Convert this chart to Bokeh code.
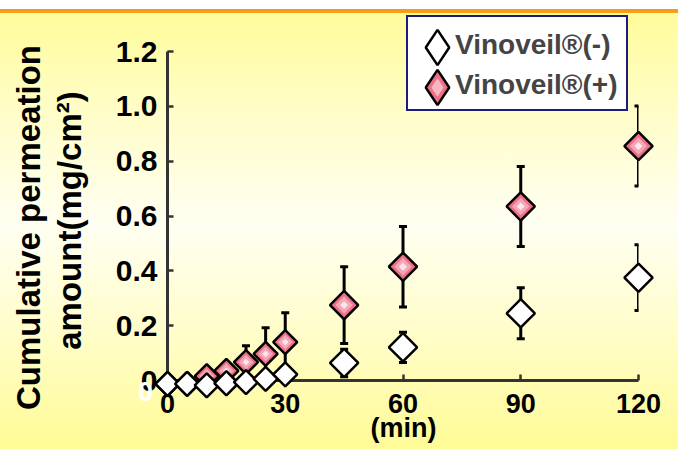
import math
from bokeh.plotting import figure
from bokeh.models import (Range1d, FixedTicker, Legend, LegendItem,
                          InlineStyleSheet, ColumnDataSource, PrintfTickFormatter)
from bokeh.core.properties import value
from bokeh.embed import file_html
from bokeh.resources import INLINE

# ---- data ----
times = [0, 5, 10, 15, 20, 25, 30, 45, 60, 90, 120]
minus_mean = [-0.012, -0.012, -0.018, -0.010, -0.006, 0.006, 0.022, 0.064, 0.121, 0.245, 0.375]
minus_sd = [0.0, 0.0, 0.0, 0.0, 0.0, 0.0, 0.0, 0.050, 0.055, 0.093, 0.120]
plus_mean = [-0.012, -0.012, 0.016, 0.035, 0.067, 0.097, 0.140, 0.275, 0.415, 0.635, 0.855]
plus_sd = [0.0, 0.0, 0.020, 0.030, 0.060, 0.095, 0.107, 0.140, 0.147, 0.146, 0.146]
series_names = ["Vinoveil®(-)", "Vinoveil®(+)"]
x_ticks = [0, 30, 60, 90, 120]
y_ticks = [0, 0.2, 0.4, 0.6, 0.8, 1.0, 1.2]
x_label = "(min)"
y_label_lines = ["Cumulative permeation", "amount(mg/cm²)"]

FONT = "Liberation Sans"

# ---- layout geometry (pixels) ----
W, H = 678, 449
F_LEFT, F_RIGHT, F_TOP, F_BOTTOM = 167, 638, 13, 380
X_MAX, Y_AXIS_MAX = 120, 1.2
PX_PER_Y = 329 / Y_AXIS_MAX          # 0 -> 1.2 spans 329 px
Y_END = (F_BOTTOM - F_TOP) / PX_PER_Y
PX_PER_X = (F_RIGHT - F_LEFT) / X_MAX

def at(px, py):
    """pixel position -> data position (for titles placed outside the frame)"""
    return (px - F_LEFT) / PX_PER_X, (F_BOTTOM - py) / PX_PER_Y

p = figure(frame_width=F_RIGHT - F_LEFT, frame_height=F_BOTTOM - F_TOP,
           output_backend="svg", toolbar_location=None,
           x_range=Range1d(0, X_MAX), y_range=Range1d(0, Y_END),
           min_border_left=F_LEFT, min_border_right=W - F_RIGHT,
           min_border_top=F_TOP, min_border_bottom=H - F_BOTTOM)
p.border_fill_alpha = 0
p.background_fill_alpha = 0
p.outline_line_color = None
p.grid.visible = False
p.stylesheets = [InlineStyleSheet(css=""":host { background: linear-gradient(to bottom,
  #ffffff 0px, #ffffff 9.5px, #f39a1a 9.5px, #f7a21c 13px, #fffc9c 13px,
  #fffdc8 25%, #fffff2 50%, #fffdc8 75%, #fffb96 100%); }""")]

for ax in (p.xaxis[0], p.yaxis[0]):
    ax.axis_line_color = "#333333"
    ax.axis_line_width = 3
    ax.major_tick_in = 6
    ax.major_tick_out = 0
    ax.major_tick_line_color = "#333333"
    ax.major_tick_line_width = 2.5
    ax.minor_tick_line_color = None
    ax.major_label_text_font = FONT
    ax.major_label_text_font_style = "bold"
    ax.major_label_text_color = "black"

p.yaxis.bounds = (0, Y_AXIS_MAX)
p.xaxis.ticker = FixedTicker(ticks=x_ticks)
p.yaxis.ticker = FixedTicker(ticks=y_ticks)
p.yaxis.formatter = PrintfTickFormatter(format="%.1f")
p.yaxis.major_label_overrides = {0: "0"}
p.xaxis.major_label_text_font_size = "27px"
p.yaxis.major_label_text_font_size = "30px"
p.xaxis.major_label_standoff = 13
p.yaxis.major_label_standoff = 10

# axis titles (drawn as text outside the frame)
lx1, ly1 = at(27.5, 227)
lx2, ly2 = at(69, 220)
p.text(x=[lx1, lx2], y=[ly1, ly2], text=y_label_lines, angle=math.pi / 2,
       text_font=value(FONT), text_font_style="bold", text_font_size="33px",
       text_color="black", text_align="center", text_baseline="middle", level="annotation")
mx, my = at(403, 427)
p.text(x=[mx], y=[my], text=[x_label], text_font=value(FONT), text_font_style="bold",
       text_font_size="27px", text_color="black", text_align="center",
       text_baseline="middle", level="annotation")
zx, zy = at(145, 391)
p.text(x=[zx], y=[zy], text=["0"], text_font=value(FONT), text_font_style="bold",
       text_font_size="27px", text_color="white", text_align="center",
       text_baseline="middle", level="annotation")

def sizes(ts):
    return [17 if t <= 30 else 20 for t in ts]

src_m = ColumnDataSource(dict(x=times, y=minus_mean,
                              lo=[m - s for m, s in zip(minus_mean, minus_sd)],
                              hi=[m + s for m, s in zip(minus_mean, minus_sd)],
                              size=sizes(times)))
src_p = ColumnDataSource(dict(x=times, y=plus_mean,
                              lo=[m - s for m, s in zip(plus_mean, plus_sd)],
                              hi=[m + s for m, s in zip(plus_mean, plus_sd)],
                              size=sizes(times),
                              size2=[s * 0.62 for s in sizes(times)],
                              size3=[s * 0.28 for s in sizes(times)]))

# error bars
for src in (src_p, src_m):
    p.segment(x0="x", y0="lo", x1="x", y1="hi", source=src, line_color="black", line_width=3)
    p.scatter(x="x", y="hi", source=src, marker="dash", size=8, line_color="black", line_width=3)
    p.scatter(x="x", y="lo", source=src, marker="dash", size=8, line_color="black", line_width=3)

ang = math.pi / 4
p.scatter(x="x", y="y", source=src_p, marker="square", size="size", angle=ang,
          fill_color="#eb7088", line_color="black", line_width=2.5, level="annotation")
p.scatter(x="x", y="y", source=src_p, marker="square", size="size2", angle=ang,
          fill_color="#f5a7b6", line_color=None, level="annotation")
p.scatter(x="x", y="y", source=src_p, marker="square", size="size3", angle=ang,
          fill_color="#fde6eb", line_color=None, level="annotation")
p.scatter(x="x", y="y", source=src_m, marker="square", size="size", angle=ang,
          fill_color="white", line_color="black", line_width=2.5, level="annotation")

# ---- legend ----
# hidden renderers used only as legend glyphs
lg_blank_m = p.scatter(x="x", y="y", source=src_m, marker="diamond", fill_alpha=0,
                       line_alpha=0, visible=False)
lg_blank_p = p.scatter(x="x", y="y", source=src_p, marker="diamond", fill_alpha=0,
                       line_alpha=0, visible=False)
lg_minus = p.scatter(x="x", y="y", source=src_m, marker="diamond",
                     fill_color="white", line_color="black", line_width=2.5, visible=False)
lg_plus = p.scatter(x="x", y="y", source=src_p, marker="diamond",
                    fill_color="#eb7088", line_color="black", line_width=2.5, visible=False)
lg_plus_in = p.scatter(x="x", y="y", source=src_p, marker="diamond",
                       fill_color="#f7b6c2", line_color=None, visible=False)

LEG_L, LEG_T, LEG_R, LEG_B = 406, 19, 624, 111
ROW = 40
GLYPH_CX = 437
main_legend = Legend(items=[LegendItem(label=series_names[0], renderers=[lg_blank_m]),
                            LegendItem(label=series_names[1], renderers=[lg_blank_p])],
                     location=(LEG_L - F_LEFT, F_BOTTOM - LEG_B),
                     glyph_width=ROW, glyph_height=ROW, spacing=0,
                     padding=dict(left=0, right=0, top=8, bottom=4),
                     label_standoff=7, label_width=171, margin=0,
                     label_text_font=FONT, label_text_font_style="bold",
                     label_text_font_size="28px",
                     border_line_color="#1c1c7c", border_line_width=2, border_line_alpha=1,
                     background_fill_color="white", background_fill_alpha=1)
p.add_layout(main_legend)

def glyph_legend(renderer, cy, box):
    # a label-less legend that only draws one large glyph centred at (GLYPH_CX, cy)
    return Legend(items=[LegendItem(label=" ", renderers=[renderer])],
                  location=(GLYPH_CX - box // 2 - F_LEFT, F_BOTTOM - (cy + box // 2)),
                  glyph_width=box, glyph_height=box, padding=0, spacing=0,
                  label_standoff=0, label_width=0, margin=0, label_text_font_size="1px",
                  border_line_color=None, background_fill_alpha=0)

row1 = LEG_T + 8 + ROW // 2
row2 = row1 + ROW
p.add_layout(glyph_legend(lg_minus, row1, 88))
p.add_layout(glyph_legend(lg_plus, row2, 88))
p.add_layout(glyph_legend(lg_plus_in, row2, 46))

open("out.html", "w").write(file_html(p, INLINE))
